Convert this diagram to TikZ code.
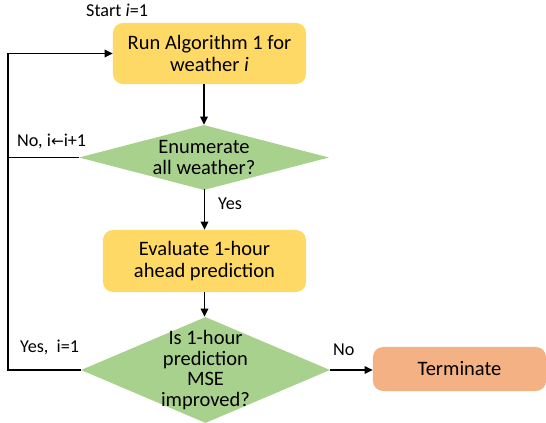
\documentclass[tikz,border=0pt]{standalone}
\usepackage{fontspec}
\setmainfont{Carlito}
\newfontfamily\symfont{DejaVu Sans}
\usetikzlibrary{arrows.meta,shapes.geometric}
\definecolor{procyellow}{HTML}{FFD966}
\definecolor{decgreen}{HTML}{A9D18E}
\definecolor{endorange}{HTML}{F4B183}
\tikzset{
  procbox/.style={rectangle, rounded corners=0.3cm, draw=none, inner sep=0pt,
    align=center, font=\fontsize{17.5}{18.5}\selectfont},
  decshape/.style={diamond, fill=decgreen, draw=none, inner sep=0pt},
  dectext/.style={align=center, inner sep=0pt, font=\fontsize{17.5}{17.5}\selectfont},
  lbl/.style={inner sep=0pt, font=\fontsize{15.5}{18}\selectfont},
  flow/.style={line width=1.4pt, -{Triangle[length=7pt,width=6.5pt]}},
  wire/.style={line width=1.4pt}
}
\begin{document}
\begin{tikzpicture}[x=0.03cm, y=-0.03cm]
\useasboundingbox (0,0) rectangle (546,423);

% process boxes
\node[procbox, fill=procyellow, minimum width=5.79cm, minimum height=1.83cm]
  (run) at (209.5,53.5) {Run Algorithm 1 for\\weather \textit{i}};
\node[procbox, fill=procyellow, minimum width=6.09cm, minimum height=1.86cm]
  (eval) at (204.5,261) {Evaluate 1-hour\\ahead prediction};
\node[procbox, fill=endorange, minimum width=5.19cm, minimum height=1.32cm]
  (term) at (459.5,369) {Terminate};

% decision diamonds
\node[decshape, minimum width=7.5cm, minimum height=1.95cm] (enum) at (204,157.5) {};
\node[dectext] (enumtxt) at (enum.center) {Enumerate\\all weather?};
\node[decshape, minimum width=7.47cm, minimum height=3.18cm] (mse) at (205.5,370) {};
\node[dectext] (msetxt) at (mse.center) {Is 1-hour\\prediction\\MSE\\improved?};

% loop-back rail
\coordinate (railtop) at (8,53.5);
\coordinate (railmid) at (8,157.5);
\coordinate (railbot) at (8,370);

% connectors
\draw[flow] (run.south -| enum.north) -- (enum.north);
\draw[flow] (enum.south) -- (eval.south |- enum.south) -- (eval.north);
\draw[flow] (eval.south) -- (mse.north -| eval.south);
\draw[flow] (mse.east) -- (term.west |- mse.east);
\draw[wire] (enum.west) -- (railmid);
\draw[wire] (mse.west) -- (railbot) -- (railtop);
\draw[flow] (railtop) -- (run.west);

% labels
\node[lbl, anchor=base west] (start) at (86,17) {Start \textit{i}=1};
\node[lbl, anchor=base west] (nolbl) at (17,147) {No, i{\symfont\fontsize{13}{15}\selectfont←}i+1};
\node[lbl, anchor=base west] (yeslbl) at (218,210) {Yes};
\node[lbl, anchor=base west] (yesi) at (20,352) {Yes,\ \ i=1};
\node[lbl, anchor=base west] (nolbl2) at (333,356) {No};
\end{tikzpicture}
\end{document}
